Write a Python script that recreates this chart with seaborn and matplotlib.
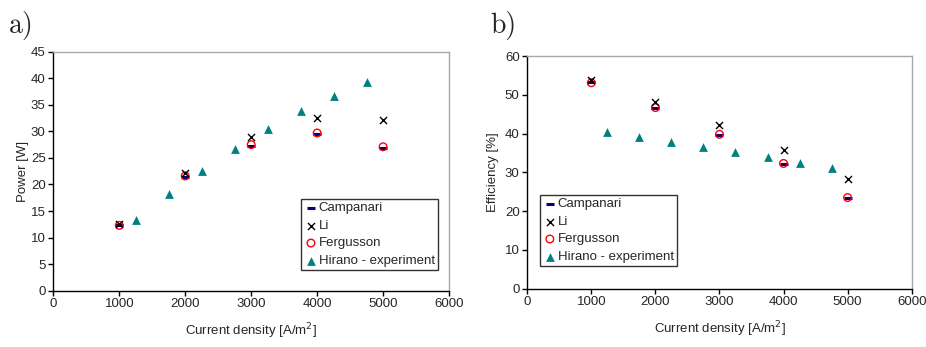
import matplotlib
matplotlib.use("Agg")
import matplotlib.pyplot as plt
import seaborn as sns

sns.set_style("white")
plt.rcParams["font.family"] = ["Liberation Sans", "DejaVu Sans"]

# Model points at integer current densities
model_x = [1000, 2000, 3000, 4000, 5000]
power_campanari = [12.3, 21.5, 27.3, 29.5, 26.8]
power_li = [12.5, 22.2, 29.0, 32.6, 32.1]
power_fergusson = [12.3, 21.6, 27.5, 29.7, 27.1]
eff_campanari = [53.3, 46.6, 39.7, 32.2, 23.3]
eff_li = [53.8, 48.2, 42.3, 35.8, 28.3]
eff_fergusson = [53.1, 46.7, 39.8, 32.3, 23.5]

# Experimental points
exp_x = [1250, 1750, 2250, 2750, 3250, 3750, 4250, 4750]
power_hirano = [13.4, 18.2, 22.6, 26.7, 30.4, 33.8, 36.7, 39.3]
eff_hirano = [40.4, 39.0, 37.7, 36.5, 35.2, 33.9, 32.5, 31.0]

series_names = ["Campanari", "Li", "Fergusson", "Hirano - experiment"]

fig = plt.figure(figsize=(9.26, 3.47), dpi=100)
ax_a = fig.add_axes([0.0576, 0.1622, 0.4273, 0.6888])
ax_b = fig.add_axes([0.5694, 0.168, 0.4151, 0.6706])

FS = 9.5


def draw(ax, camp, li, ferg, hir):
    sns.scatterplot(x=model_x, y=camp, ax=ax, marker="_", s=36, color="#000080",
                    linewidth=2.2, label=series_names[0], zorder=3)
    sns.scatterplot(x=model_x, y=li, ax=ax, marker="x", s=26, color="black",
                    linewidth=1.0, label=series_names[1], zorder=4)
    sns.scatterplot(x=model_x, y=ferg, ax=ax, marker="o", s=30, facecolor="none",
                    edgecolor="#ff0000", linewidth=1.0, label=series_names[2], zorder=3)
    sns.scatterplot(x=exp_x, y=hir, ax=ax, marker="^", s=40, color="#008080",
                    linewidth=0, label=series_names[3], zorder=3)
    ax.set_xlim(0, 6000)
    ax.set_xticks(range(0, 6001, 1000))
    for side in ("top", "right"):
        ax.spines[side].set_color("#a8a8a8")
        ax.spines[side].set_linewidth(1.0)
    for side in ("left", "bottom"):
        ax.spines[side].set_color("black")
        ax.spines[side].set_linewidth(1.0)
    ax.tick_params(axis="both", which="major", direction="out", length=3.5, width=1,
                   color="black", labelsize=FS, pad=2, left=True, bottom=True)
    ax.set_xlabel("Current density [A/m$^2$]", fontsize=FS, labelpad=8)


def add_legend(ax, anchor):
    leg = ax.legend(loc="upper left", bbox_to_anchor=anchor, fontsize=FS,
                    frameon=True, fancybox=False, edgecolor="black", borderpad=0.25,
                    handletextpad=0.1, handlelength=1.0, labelspacing=0.4,
                    borderaxespad=0)
    leg.get_frame().set_linewidth(1.0)
    return leg


draw(ax_a, power_campanari, power_li, power_fergusson, power_hirano)
ax_a.set_ylim(0, 45)
ax_a.set_yticks(range(0, 46, 5))
ax_a.set_ylabel("Power [W]", fontsize=FS, labelpad=1)
add_legend(ax_a, (0.626, 0.384))

draw(ax_b, eff_campanari, eff_li, eff_fergusson, eff_hirano)
ax_b.set_ylim(0, 60)
ax_b.set_yticks(range(0, 61, 10))
ax_b.set_ylabel("Efficiency [%]", fontsize=FS, labelpad=4)
add_legend(ax_b, (0.033, 0.403))

fig.text(0.010, 0.905, "a)", fontsize=20, family="cmr10")
fig.text(0.529, 0.905, "b)", fontsize=20, family="cmr10")

fig.savefig("out.png", dpi=100)
